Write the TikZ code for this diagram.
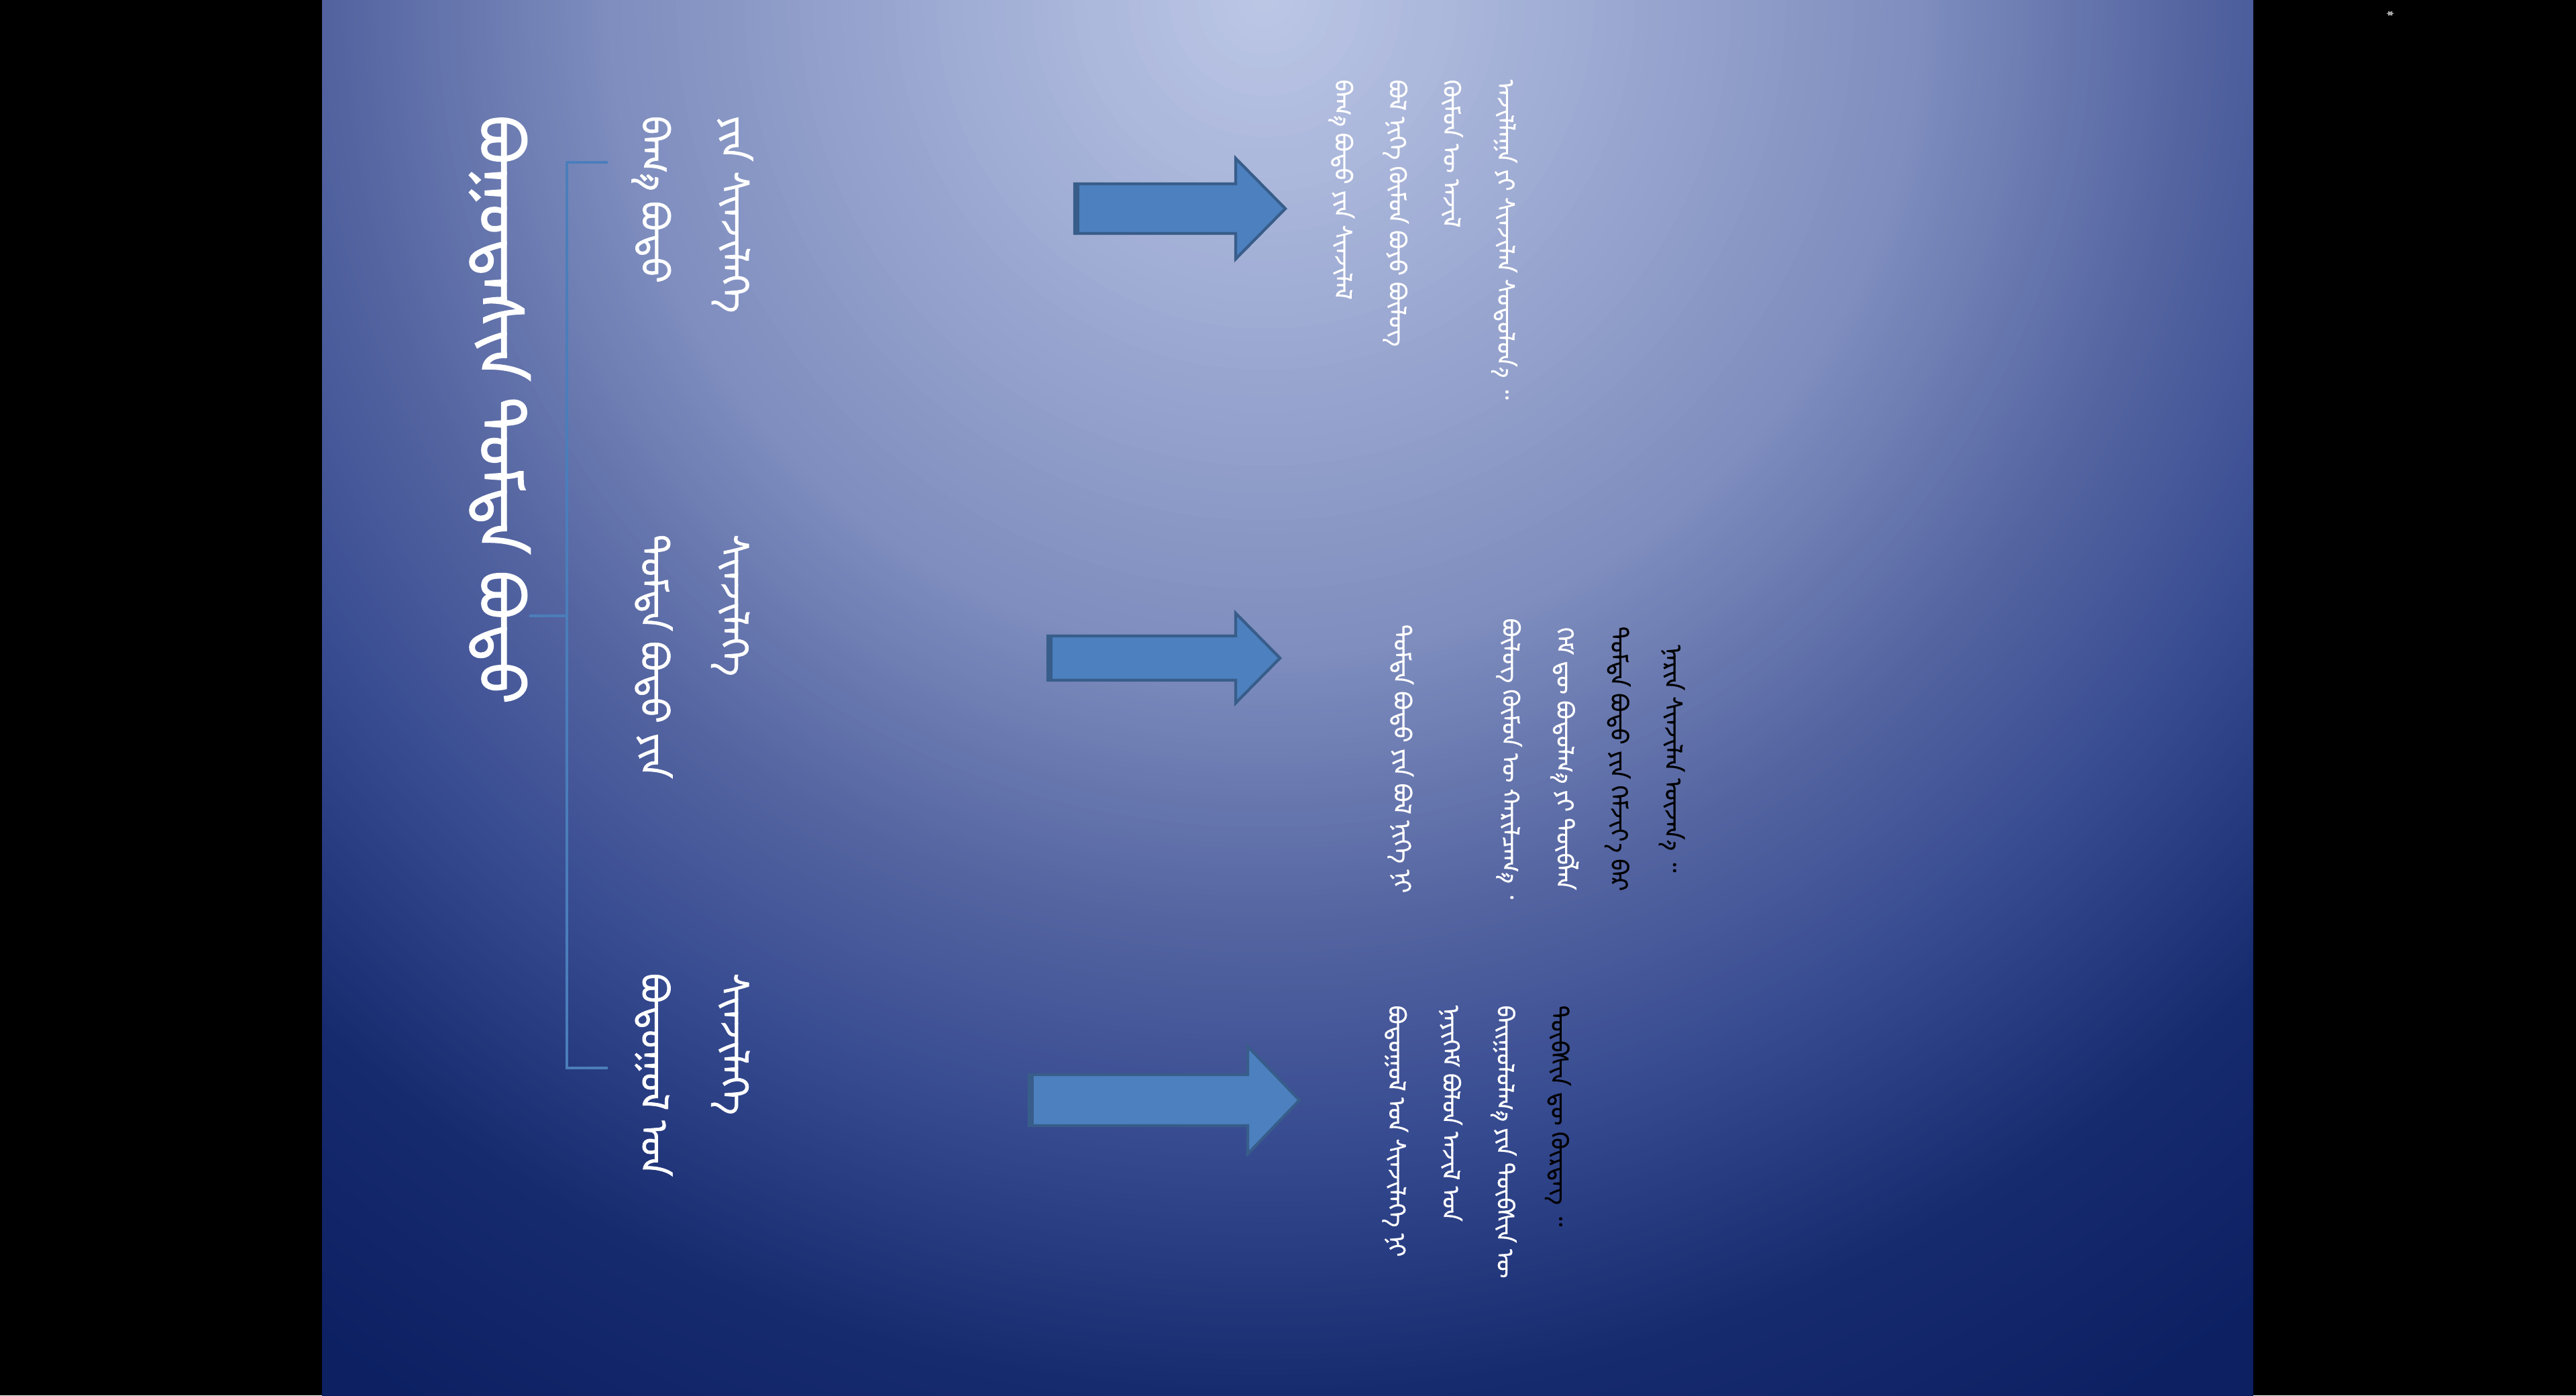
\documentclass[tikz,border=0pt]{standalone}
\usepackage{fontspec}
\usepackage{tikz}
\usetikzlibrary{arrows.meta,calc}
\newfontfamily\mongfont[Script=Mongolian,FakeBold=1.6]{Noto Sans Mongolian}
\newfontfamily\mongitemfont[Script=Mongolian,FakeBold=1.2]{Noto Sans Mongolian}
\newfontfamily\mongnotefont[Script=Mongolian,FakeBold=0.8]{Noto Sans Mongolian}
\definecolor{bgA}{RGB}{188,199,230}
\definecolor{bgB}{RGB}{126,141,190}
\definecolor{bgC}{RGB}{86,102,162}
\definecolor{bgD}{RGB}{54,74,144}
\definecolor{bgE}{RGB}{22,42,110}
\definecolor{bgF}{RGB}{12,32,98}
\definecolor{arrowfill}{HTML}{4C80BF}
\definecolor{arrowline}{HTML}{385D8A}
\definecolor{bracketblue}{HTML}{4A7EBB}
\tikzset{
  mtitle/.style={rotate=-90,anchor=west,inner sep=0pt,text=white,
    font=\mongfont\fontsize{26}{34}\selectfont},
  mitem/.style={rotate=-90,anchor=west,inner sep=0pt,align=left,text=white,
    font=\mongitemfont\fontsize{16}{34}\selectfont},
  mnote/.style={rotate=-90,inner sep=0pt,text=white,
    font=\mongnotefont\fontsize{10}{23}\selectfont},
  bracket/.style={draw=bracketblue,line width=1.1pt},
  blockarrow/.style={fill=arrowfill,draw=arrowline,line width=1.2pt,line join=miter}
}
% shaft start, head base, tip, centre y, half shaft, half head
\newcommand{\slidearrow}[6]{%
  \draw[blockarrow] (#1,#4+#5) -- (#2,#4+#5) -- (#2,#4+#6) -- (#3,#4)
    -- (#2,#4-#6) -- (#2,#4-#5) -- (#1,#4-#5) -- cycle;
  \fill[arrowline] (#1,#4+#5) rectangle (#1+0.07,#4-#5);}
\begin{document}
\begin{tikzpicture}
  \useasboundingbox (0,0) rectangle (38.4,-20.8);
  \fill[black] (0,0) rectangle (38.4,-20.8);
  % slide background, rings from the top centre outwards
  \begin{scope}
    \clip (4.80,0) rectangle (33.58,-20.8);
    \foreach \ra/\rb/\ci/\co in {24.5/30/bgF/bgF,20.8/24.5/bgE/bgF,17.15/20.8/bgD/bgE,
        13.6/17.15/bgC/bgD,9.8/13.6/bgB/bgC,0/9.8/bgA/bgB}{
      \foreach \k in {48,47,...,1}{
        \pgfmathsetmacro\rr{\ra+(\rb-\ra)*\k/48}
        \pgfmathsetmacro\pp{100-100*(\k-0.5)/48}
        \fill[\ci!\pp!\co] (18.86,0) circle (\rr);
      }
    }
  \end{scope}
  \draw[gray!70,line width=0.8pt,{Latex[length=1mm]}-{Latex[length=1mm]}] (35.56,-0.2) -- (35.70,-0.2);

  % title and the three parts
  \node[mtitle] (title) at (7.45,-1.71) {ᠪᠣᠭᠤᠳᠠᠰᠢᠨ ᠳᠤᠮᠳᠠ ᠪᠣᠳᠤ};
  \node[mitem] (small) at (10.32,-1.72) {ᠶᠢᠨ ᠰᠢᠨᠵᠢᠯᠡᠭᠡ\\ᠪᠠᠭ᠎ᠠ ᠪᠣᠳᠤ};
  \node[mitem] (middle) at (10.32,-7.96) {ᠰᠢᠨᠵᠢᠯᠡᠭᠡ\\ᠳᠤᠮᠳᠠ ᠪᠣᠳᠤ ᠶᠢᠨ};
  \node[mitem] (large) at (10.32,-14.50) {ᠰᠢᠨᠵᠢᠯᠡᠭᠡ\\ᠪᠣᠳᠤᠭᠤᠯ ᠤᠨ};

  % bracket
  \coordinate (brtop) at (9.06,-2.42);
  \coordinate (brbot) at (9.06,-15.92);
  \coordinate (brmid) at (7.89,-9.18);
  \draw[bracket] (brtop) -- ++(-0.61,0) |- (brbot);
  \draw[bracket] (brmid) -- ++(0.56,0);

  % arrows
  \slidearrow{16.02}{18.42}{19.16}{-3.11}{0.37}{0.75}
  \slidearrow{15.62}{18.42}{19.08}{-9.81}{0.33}{0.67}
  \slidearrow{15.34}{18.60}{19.37}{-16.40}{0.38}{0.80}

  % explanations
  \node[mnote,anchor=west,align=left] (notesmall) at (21.21,-1.18)
    {ᠠᠵᠢᠯᠯᠠᠭᠠ ᠶᠢ ᠰᠢᠨᠵᠢᠯᠡᠨ ᠰᠤᠳᠤᠯᠤᠨ᠎ᠠ ᠃\\ᠬᠦᠮᠦᠨ ᠦ ᠠᠵᠢᠯ\\ᠪᠣᠯ ᠨᠢᠭᠡ ᠬᠦᠮᠦᠨ ᠪᠤᠶᠤ ᠪᠦᠯᠦᠭ\\ᠪᠠᠭ᠎ᠠ ᠪᠣᠳᠤ ᠶᠢᠨ ᠰᠢᠨᠵᠢᠯᠡᠯ};
  \node[mnote,anchor=center,align=center] (notemiddle) at (22.90,-11.31)
    {\textcolor{black}{ᠨᠠᠷᠢᠨ ᠰᠢᠨᠵᠢᠯᠡᠨ ᠦᠵᠡᠨ᠎ᠡ ᠃}\\\textcolor{black}{ᠳᠤᠮᠳᠠ ᠪᠣᠳᠤ ᠶᠢᠨ ᠬᠡᠮᠵᠢᠶ᠎ᠡ ᠪᠡᠷ}\\ᠬᠡᠮ ᠳᠦ ᠪᠣᠳᠤᠯᠭ᠎ᠠ ᠶᠢ ᠲᠥᠪᠯᠡᠨ\\ᠪᠦᠯᠦᠭ ᠬᠦᠮᠦᠨ ᠦ ᠬᠠᠷᠢᠯᠴᠠᠭ᠎ᠠ ᠂\\\mbox{}\\ᠳᠤᠮᠳᠠ ᠪᠣᠳᠤ ᠶᠢᠨ ᠪᠣᠯ ᠨᠢᠭᠡ ᠨᠢ};
  \node[mnote,anchor=west,align=left] (notelarge) at (22.01,-14.98)
    {\textcolor{black}{ᠲᠦᠪᠰᠢᠨ ᠳᠦ ᠬᠦᠷᠳᠡᠭ ᠃}\\ᠪᠠᠢᠭᠤᠯᠤᠯᠭ᠎ᠠ ᠶᠢᠨ ᠲᠦᠪᠰᠢᠨ ᠦ\\ᠨᠡᠶᠢᠭᠡᠮ ᠪᠣᠯᠤᠨ ᠠᠵᠢᠯ ᠤᠨ\\ᠪᠣᠳᠤᠭᠤᠯ ᠤᠨ ᠰᠢᠨᠵᠢᠯᠡᠭᠡ ᠨᠢ};
\end{tikzpicture}
\end{document}
